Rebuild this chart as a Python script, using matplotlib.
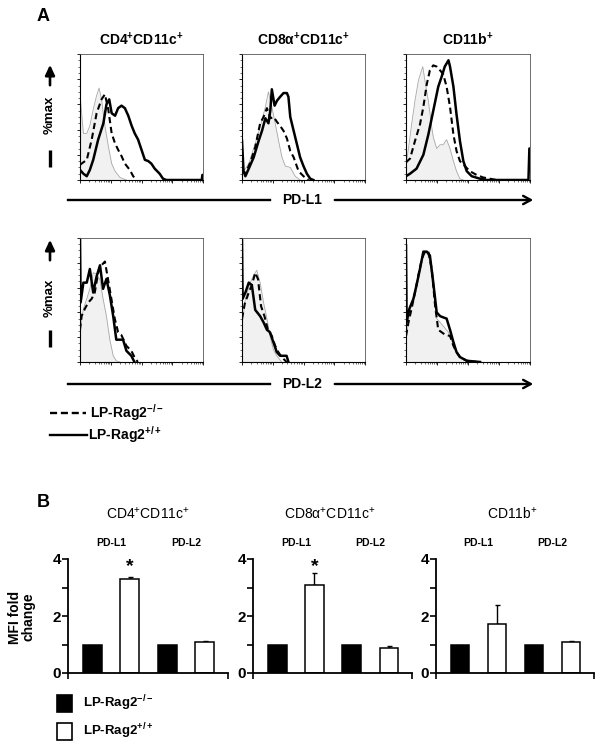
"""
Figure PD-L1 / PD-L2 : histogrammes de cytométrie (A) + MFI fold change (B)
"""
import numpy as np
import matplotlib
matplotlib.use("Agg")
import matplotlib.pyplot as plt
from matplotlib.patches import Rectangle
from matplotlib.ticker import LogLocator, MultipleLocator, NullFormatter

plt.rcParams["font.family"] = ["Liberation Sans", "DejaVu Sans"]
plt.rcParams["mathtext.fontset"] = "custom"
plt.rcParams["mathtext.rm"] = "Liberation Sans:bold"
plt.rcParams["mathtext.bf"] = "Liberation Sans:bold"
plt.rcParams["mathtext.it"] = "Liberation Sans:bold"
plt.rcParams["mathtext.sf"] = "Liberation Sans"
plt.rcParams["mathtext.default"] = "rm"

# ============================================================================
# DONNÉES - A : histogrammes (x en décades log10, y en %max)
# ============================================================================
cell_types = ["CD4$^{+}$CD11c$^{+}$", "CD8α$^{+}$CD11c$^{+}$", "CD11b$^{+}$"]
markers = ["PD-L1", "PD-L2"]
strains = ["LP-Rag2$^{-/-}$", "LP-Rag2$^{+/+}$"]

# PD-L1, CD4+CD11c+
pdl1_cd4_iso_x = [0, 0.11, 0.22, 0.32, 0.43, 0.54, 0.62, 0.70, 0.81, 0.92, 1.03, 1.14, 1.30, 1.51]
pdl1_cd4_iso_y = [68, 37, 37, 43, 56, 67, 73, 64, 43, 27, 13, 7, 2, 0]
pdl1_cd4_ko_x = [0, 0.05, 0.22, 0.38, 0.54, 0.70, 0.81, 0.92, 1.03, 1.14, 1.24, 1.35, 1.46, 1.62, 1.73, 1.84]
pdl1_cd4_ko_y = [12, 13, 16, 32, 53, 64, 68, 56, 37, 29, 24, 19, 13, 8, 3, 0]
pdl1_cd4_wt_x = [0, 0.11, 0.22, 0.32, 0.43, 0.59, 0.76, 0.86, 0.95, 1.03, 1.14, 1.24, 1.35, 1.46,
                 1.57, 1.68, 1.78, 1.89, 2.0, 2.11, 2.22, 2.32, 2.43, 2.59, 2.70, 2.81, 3.96, 3.98, 4.0]
pdl1_cd4_wt_y = [8, 5, 3, 8, 16, 32, 45, 60, 64, 53, 51, 57, 59, 57,
                 51, 43, 37, 32, 24, 16, 15, 13, 9, 5, 1, 0, 0, 4, 4]

# PD-L1, CD8a+CD11c+
pdl1_cd8_iso_x = [0, 0.22, 0.43, 0.59, 0.76, 0.86, 0.97, 1.08, 1.19, 1.30, 1.41, 1.57, 1.73, 1.89]
pdl1_cd8_iso_y = [5, 13, 29, 42, 58, 70, 58, 45, 31, 18, 11, 10, 3, 0]
pdl1_cd8_ko_x = [0, 0.11, 0.27, 0.43, 0.59, 0.70, 0.81, 0.92, 1.03, 1.14, 1.24, 1.35, 1.46,
                 1.57, 1.68, 1.84, 2.0, 2.16]
pdl1_cd8_ko_y = [7, 5, 14, 26, 45, 50, 57, 49, 50, 46, 43, 39, 33, 23, 18, 7, 3, 0]
pdl1_cd8_wt_x = [0, 0.05, 0.11, 0.22, 0.38, 0.54, 0.65, 0.76, 0.86, 0.92, 0.97, 1.06, 1.14,
                 1.24, 1.35, 1.46, 1.51, 1.57, 1.68, 1.78, 1.89, 2.0, 2.11, 2.22, 2.32]
pdl1_cd8_wt_y = [31, 7, 3, 9, 18, 31, 39, 49, 45, 55, 72, 59, 63,
                 66, 69, 69, 66, 50, 39, 29, 18, 11, 5, 1, 0]

# PD-L1, CD11b+
pdl1_cd11b_iso_x = [0, 0.08, 0.18, 0.29, 0.40, 0.54, 0.61, 0.72, 0.83, 0.88, 0.99, 1.10, 1.20,
                    1.31, 1.42, 1.53, 1.63, 1.74, 1.85]
pdl1_cd11b_iso_y = [12, 25, 44, 63, 79, 90, 79, 63, 42, 34, 25, 28, 28, 32, 25, 15, 7, 1, 0]
pdl1_cd11b_ko_x = [0, 0.13, 0.29, 0.45, 0.56, 0.67, 0.77, 0.88, 0.99, 1.10, 1.20, 1.31, 1.42,
                   1.53, 1.63, 1.74, 1.90, 2.06, 2.28, 2.49, 2.71, 2.92]
pdl1_cd11b_ko_y = [14, 17, 31, 44, 58, 76, 87, 91, 90, 87, 84, 74, 58, 36, 23, 15, 11, 7, 4, 2, 1, 0]
pdl1_cd11b_wt_x = [0, 0.13, 0.34, 0.56, 0.72, 0.88, 1.04, 1.15, 1.25, 1.37, 1.42, 1.53, 1.63,
                   1.74, 1.85, 1.96, 2.12, 2.39, 2.60, 3.95, 3.98, 4.0]
pdl1_cd11b_wt_y = [3, 5, 9, 20, 36, 55, 74, 82, 90, 95, 90, 74, 52, 31, 15, 7, 3, 1, 0, 0, 25, 25]

# PD-L2, CD4+CD11c+
pdl2_cd4_iso_x = [0, 0.11, 0.22, 0.32, 0.43, 0.54, 0.65, 0.75, 0.86, 0.97, 1.08, 1.18, 1.29]
pdl2_cd4_iso_y = [24, 43, 51, 59, 72, 71, 66, 51, 37, 18, 5, 1, 0]
pdl2_cd4_ko_x = [0, 0.05, 0.16, 0.27, 0.38, 0.48, 0.59, 0.70, 0.81, 0.91, 1.02, 1.13, 1.24,
                 1.34, 1.51, 1.67, 1.77, 1.88]
pdl2_cd4_ko_y = [26, 37, 43, 48, 51, 56, 72, 78, 81, 67, 51, 35, 24, 22, 13, 9, 4, 0]
pdl2_cd4_wt_x = [0, 0.02, 0.11, 0.22, 0.32, 0.43, 0.54, 0.65, 0.75, 0.86, 0.97, 1.08, 1.18,
                 1.29, 1.40, 1.51, 1.67, 1.77]
pdl2_cd4_wt_y = [99, 48, 64, 64, 75, 56, 69, 78, 59, 67, 54, 37, 18, 18, 18, 9, 5, 0]

# PD-L2, CD8a+CD11c+
pdl2_cd8_iso_x = [0, 0.11, 0.27, 0.38, 0.48, 0.59, 0.70, 0.81, 0.91, 1.02, 1.13, 1.29]
pdl2_cd8_iso_y = [29, 51, 64, 70, 74, 64, 48, 35, 21, 10, 5, 0]
pdl2_cd8_ko_x = [0, 0.09, 0.22, 0.32, 0.43, 0.52, 0.62, 0.73, 0.84, 0.97, 1.08, 1.18, 1.29, 1.45]
pdl2_cd8_ko_y = [35, 47, 56, 62, 72, 67, 45, 37, 26, 21, 13, 8, 4, 0]
pdl2_cd8_wt_x = [0, 0.02, 0.11, 0.22, 0.32, 0.43, 0.59, 0.70, 0.81, 0.91, 1.02, 1.13, 1.24, 1.45, 1.51]
pdl2_cd8_wt_y = [98, 51, 56, 64, 62, 42, 37, 32, 26, 24, 16, 8, 5, 5, 0]

# PD-L2, CD11b+
pdl2_cd11b_iso_x = [0, 0.13, 0.29, 0.45, 0.56, 0.67, 0.77, 0.88, 0.99, 1.10, 1.20, 1.37, 1.47,
                    1.58, 1.74, 1.96, 2.17]
pdl2_cd11b_iso_y = [16, 43, 56, 75, 86, 89, 81, 59, 35, 32, 29, 24, 18, 10, 4, 1, 0]
pdl2_cd11b_ko_x = [0, 0.08, 0.18, 0.29, 0.40, 0.51, 0.61, 0.72, 0.83, 0.94, 1.04, 1.15, 1.26,
                   1.42, 1.53, 1.63, 1.74, 1.96, 2.28]
pdl2_cd11b_ko_y = [21, 32, 43, 56, 70, 83, 89, 89, 75, 45, 26, 24, 22, 21, 13, 8, 4, 1, 0]
pdl2_cd11b_wt_x = [0, 0.02, 0.11, 0.24, 0.34, 0.45, 0.56, 0.67, 0.77, 0.88, 0.99, 1.10, 1.20,
                   1.31, 1.42, 1.53, 1.63, 1.74, 1.96, 2.39]
pdl2_cd11b_wt_y = [94, 32, 43, 51, 62, 75, 89, 89, 86, 64, 40, 37, 36, 35, 26, 16, 8, 4, 1, 0]

# ============================================================================
# DONNÉES - B : MFI fold change (barres : PD-L1 -/-, PD-L1 +/+, PD-L2 -/-, PD-L2 +/+)
# ============================================================================
mfi_cd4 = [1.0, 3.30, 1.0, 1.10]
err_cd4 = [0, 0.07, 0, 0.03]
sig_cd4 = [False, True, False, False]
mfi_cd8 = [1.0, 3.10, 1.0, 0.87]
err_cd8 = [0, 0.42, 0, 0.08]
sig_cd8 = [False, True, False, False]
mfi_cd11b = [1.0, 1.72, 1.0, 1.09]
err_cd11b = [0, 0.67, 0, 0.04]
sig_cd11b = [False, False, False, False]
bar_pos = [1, 2, 3, 4]
bar_colors = ["black", "white", "black", "white"]
yticks_b = [0, 1, 2, 3, 4]
yticklabels_b = ["0", "", "2", "", "4"]

# ============================================================================
# MISE EN PAGE (pixels)
# ============================================================================
W, H = 603, 748
fig = plt.figure(figsize=(W / 100, H / 100), dpi=100)


def px_axes(l, t, r, b):
    return fig.add_axes([l / W, 1 - b / H, (r - l) / W, (b - t) / H])


hist_cols = [(80, 203), (242, 365), (406, 530)]
hist_rows = [(54, 180), (238, 362)]

hist_data = [
    [(pdl1_cd4_iso_x, pdl1_cd4_iso_y, pdl1_cd4_ko_x, pdl1_cd4_ko_y, pdl1_cd4_wt_x, pdl1_cd4_wt_y),
     (pdl1_cd8_iso_x, pdl1_cd8_iso_y, pdl1_cd8_ko_x, pdl1_cd8_ko_y, pdl1_cd8_wt_x, pdl1_cd8_wt_y),
     (pdl1_cd11b_iso_x, pdl1_cd11b_iso_y, pdl1_cd11b_ko_x, pdl1_cd11b_ko_y, pdl1_cd11b_wt_x, pdl1_cd11b_wt_y)],
    [(pdl2_cd4_iso_x, pdl2_cd4_iso_y, pdl2_cd4_ko_x, pdl2_cd4_ko_y, pdl2_cd4_wt_x, pdl2_cd4_wt_y),
     (pdl2_cd8_iso_x, pdl2_cd8_iso_y, pdl2_cd8_ko_x, pdl2_cd8_ko_y, pdl2_cd8_wt_x, pdl2_cd8_wt_y),
     (pdl2_cd11b_iso_x, pdl2_cd11b_iso_y, pdl2_cd11b_ko_x, pdl2_cd11b_ko_y, pdl2_cd11b_wt_x, pdl2_cd11b_wt_y)],
]

DASH = (0, (3, 1.8))

for r, (top, bot) in enumerate(hist_rows):
    for c, (left, right) in enumerate(hist_cols):
        ax = px_axes(left, top, right, bot)
        iso_x, iso_y, ko_x, ko_y, wt_x, wt_y = hist_data[r][c]
        ix = 10 ** np.array(iso_x)
        ax.fill_between(ix, iso_y, 0, color="#f1f1f1", lw=0)
        ax.plot(ix, iso_y, color="#a8a8a8", lw=0.6)
        ax.plot(10 ** np.array(ko_x), ko_y, color="black", lw=1.5, ls=DASH)
        ax.plot(10 ** np.array(wt_x), wt_y, color="black", lw=1.8)
        ax.set_xscale("log")
        ax.set_xlim(1, 1e4)
        ax.set_ylim(0, 100)
        ax.xaxis.set_major_locator(LogLocator(base=10, numticks=10))
        ax.xaxis.set_minor_locator(LogLocator(base=10, subs=np.arange(2, 10), numticks=10))
        ax.xaxis.set_major_formatter(NullFormatter())
        ax.xaxis.set_minor_formatter(NullFormatter())
        ax.yaxis.set_major_locator(MultipleLocator(20))
        ax.yaxis.set_minor_locator(MultipleLocator(5))
        ax.yaxis.set_major_formatter(NullFormatter())
        ax.tick_params(axis="both", which="major", direction="out", length=2.5, width=0.6)
        ax.tick_params(axis="both", which="minor", direction="out", length=1.2, width=0.4)
        for side in ["top", "right"]:
            ax.spines[side].set_linewidth(0.6)
            ax.spines[side].set_color("#555555")
        for side in ["left", "bottom"]:
            ax.spines[side].set_linewidth(0.8)

# Barres (B)
bar_cols = [(68, 228), (253, 412), (436, 594)]
bar_top, bar_bot = 559, 673
bar_data = [(mfi_cd4, err_cd4, sig_cd4), (mfi_cd8, err_cd8, sig_cd8), (mfi_cd11b, err_cd11b, sig_cd11b)]

for c, (left, right) in enumerate(bar_cols):
    ax = px_axes(left, bar_top, right, bar_bot)
    vals, errs, sigs = bar_data[c]
    ax.bar(bar_pos, vals, width=0.5, color=bar_colors, edgecolor="black", linewidth=1.1, zorder=2)
    for x, v, e, s in zip(bar_pos, vals, errs, sigs):
        if e > 0:
            ax.errorbar(x, v, yerr=[[0], [e]], fmt="none", ecolor="black", elinewidth=1.0,
                        capsize=1.8, capthick=1.0, zorder=1)
        if s:
            ax.text(x, 3.72, "*", ha="center", va="center", fontsize=14, fontweight="bold")
    for i, lab in enumerate(markers):
        ax.text(1.5 + 2 * i, 4.56, lab, ha="center", va="center", fontsize=7.5,
                fontweight="bold", clip_on=False)
    ax.set_xlim(0.35, 4.62)
    ax.set_ylim(0, 4)
    ax.set_xticks([0.35, 4.62])
    ax.set_xticklabels([])
    ax.set_yticks(yticks_b)
    ax.set_yticklabels(yticklabels_b, fontsize=11, fontweight="bold")
    ax.tick_params(axis="both", direction="out", length=4, width=1.2, pad=1)
    for side in ["top", "right"]:
        ax.spines[side].set_visible(False)
    for side in ["left", "bottom"]:
        ax.spines[side].set_linewidth(1.3)

# Calque en coordonnées pixels pour annotations
ov = fig.add_axes([0, 0, 1, 1])
ov.set_xlim(0, W)
ov.set_ylim(H, 0)
ov.axis("off")
ov.patch.set_alpha(0)

ov.text(43, 16, "A", ha="center", va="center", fontsize=13, fontweight="bold")
ov.text(43, 502, "B", ha="center", va="center", fontsize=13, fontweight="bold")

# titres A
for (left, right), lab in zip(hist_cols, cell_types):
    ov.text((left + right) / 2, 40, lab, ha="center", va="center", fontsize=10, fontweight="bold")

# axe %max + flèches
for (arr_top, arr_bot, txt_y, bar_y0, bar_y1) in [(62, 88, 115, 150, 167), (237, 263, 298, 330, 347)]:
    ov.annotate("", xy=(50, arr_top), xytext=(50, arr_bot),
                arrowprops=dict(arrowstyle="-|>,head_length=0.6,head_width=0.28", lw=1.9, color="black"))
    ov.text(50, txt_y, "%max", rotation=90, ha="center", va="center", fontsize=9.5, fontweight="bold")
    ov.plot([50, 50], [bar_y0, bar_y1], color="black", lw=2.4, solid_capstyle="butt")

for y, lab in [(200, markers[0]), (384, markers[1])]:
    ov.plot([68, 270], [y, y], color="black", lw=1.7)
    ov.annotate("", xy=(536, y), xytext=(332, y),
                arrowprops=dict(arrowstyle="->,head_length=0.55,head_width=0.3", lw=1.7, color="black"))
    ov.text(302, y, lab, ha="center", va="center", fontsize=10, fontweight="bold")

# légende A
ov.plot([50, 86], [413, 413], color="black", lw=1.7, ls=(0, (3, 1.6)))
ov.text(90, 413, strains[0], ha="left", va="center", fontsize=10, fontweight="bold")
ov.plot([50, 87], [435, 435], color="black", lw=1.7)
ov.text(88, 435, strains[1], ha="left", va="center", fontsize=10, fontweight="bold")

# titres B
for xc, lab in zip([148, 330, 512], cell_types):
    lab_sf = lab.replace("$^{+}$", "$\\mathsf{^{+}}$")
    ov.text(xc, 514, lab_sf, ha="center", va="center", fontsize=10)

ov.text(22, 617, "MFI fold\nchange", rotation=90, ha="center", va="center",
        fontsize=10, fontweight="bold", linespacing=1.0)

# légende B
ov.add_patch(Rectangle((57, 695), 15, 17, facecolor="black", edgecolor="black", lw=1.2))
ov.text(83, 703, strains[0], ha="left", va="center", fontsize=9.5, fontweight="bold")
ov.add_patch(Rectangle((57, 723), 15, 17, facecolor="white", edgecolor="black", lw=1.2))
ov.text(83, 731, strains[1], ha="left", va="center", fontsize=9.5, fontweight="bold")

fig.savefig("out.png", dpi=100)
